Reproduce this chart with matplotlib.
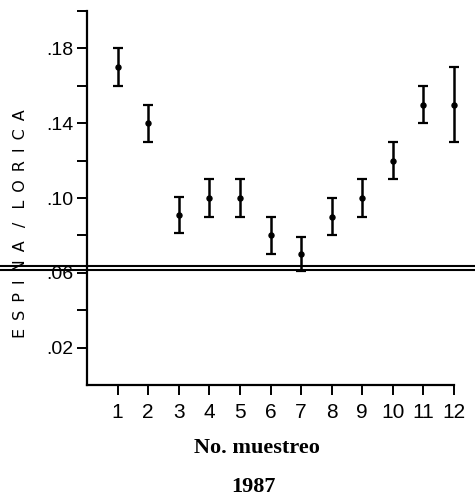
import numpy as np
import matplotlib
matplotlib.use('Agg')
import matplotlib.pyplot as plt
from matplotlib.lines import Line2D

# datos
muestreo = [1, 2, 3, 4, 5, 6, 7, 8, 9, 10, 11, 12]
media = [0.170, 0.140, 0.091, 0.100, 0.100, 0.080, 0.070, 0.090, 0.100, 0.120, 0.150, 0.150]
error = [0.010, 0.010, 0.0095, 0.010, 0.010, 0.010, 0.009, 0.010, 0.010, 0.010, 0.010, 0.020]

y_ticks = [0.02, 0.04, 0.06, 0.08, 0.10, 0.12, 0.14, 0.16, 0.18, 0.20]
y_labels = ['.02', '', '.06', '', '.10', '', '.14', '', '.18', '']
x_labels = [str(m) for m in muestreo]

narrow = ['Liberation Sans', 'DejaVu Sans']
serif = ['Liberation Serif', 'DejaVu Serif']

fig = plt.figure(figsize=(4.75, 4.96), dpi=100)
ax = fig.add_axes([0.1832, 0.2238, 0.7726, 0.754])

ax.errorbar(muestreo, media, yerr=error, fmt='o', color='black', markersize=3.6,
            elinewidth=1.8, capsize=3.6, capthick=1.6, clip_on=False)

ax.set_xlim(0, 12)
ax.set_ylim(0, 0.20)
ax.spines['top'].set_visible(False)
ax.spines['right'].set_visible(False)
ax.spines['left'].set_linewidth(1.6)
ax.spines['bottom'].set_linewidth(1.6)

ax.set_xticks(muestreo)
ax.set_xticklabels(x_labels, family=narrow, fontsize=15)
ax.set_yticks(y_ticks)
ax.set_yticklabels(y_labels, family=narrow, fontsize=14)
ax.tick_params(axis='x', direction='out', length=7, width=1.4, pad=6)
ax.tick_params(axis='y', direction='out', length=7, width=1.4, pad=3)

sp = '\u2002'
etiqueta_y = sp.join('ESPINA') + sp + ' / ' + sp + sp.join('LORICA')
fig.text(0.044, 1 - 224 / 496, etiqueta_y, rotation=90,
         ha='center', va='center', fontsize=11.5, family='DejaVu Sans')
fig.text(0.54, 1 - 448 / 496, 'No. muestreo', ha='center', va='center',
         fontsize=16, fontweight='bold', family=serif)
fig.text(0.533, 1 - 487 / 496, '1987', ha='center', va='center',
         fontsize=16, fontweight='bold', family=serif)

# doble linea del escaneo
for yy in [266, 270]:
    fig.add_artist(Line2D([0, 1], [1 - yy / 496] * 2, transform=fig.transFigure,
                          color='black', lw=1.5))

fig.savefig('out.png', dpi=100)
